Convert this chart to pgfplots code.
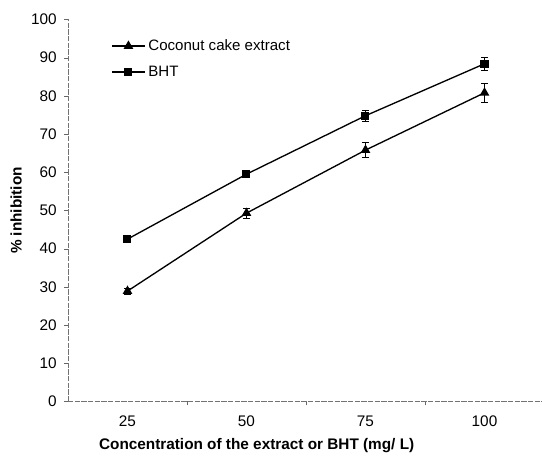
\documentclass[border=0pt]{standalone}
\usepackage{fontspec}
\setmainfont{Liberation Sans}
\usepackage{pgfplots}
\pgfplotsset{compat=1.18}
\begin{document}
\begin{tikzpicture}[x=1pt,y=1pt]
\begin{axis}[
  at={(0,0)}, anchor=south west,
  scale only axis,
  width=357pt, height=286.5pt,
  xmin=0.5, xmax=4.5,
  ymin=0, ymax=100,
  axis lines*=left,
  axis line style={black!55, line width=0.5pt, dash pattern=on 4pt off 1pt},
  xtick={1,2,3,4},
  xticklabels={25,50,75,100},
  major x tick style={draw=none},
  minor xtick={1.5,2.5,3.5},
  minor x tick style={black!60},
  minor tick length=3pt,
  ytick={0,10,...,100},
  y tick style={black!60},
  major tick length=3pt,
  tick align=outside,
  /pgf/number format/assume math mode=true,
  tick label style={font=\fontsize{11.5}{13}\selectfont},
  xticklabel style={yshift=-4pt},
  yticklabel style={xshift=-2pt},
  xlabel={\textbf{Concentration of the extract or BHT (mg/ L)}},
  ylabel={\textbf{\% inhibition}},
  label style={font=\fontsize{11.5}{13}\selectfont},
  xlabel style={yshift=-2pt, xshift=-37pt},
  ylabel style={yshift=0pt},
  legend style={at={(0.09,0.955)}, anchor=north west, draw=none, fill=none,
    font=\fontsize{11.3}{13}\selectfont, row sep=6pt, inner sep=0pt,
    cells={anchor=west}},
  legend image code/.code={\draw[mark repeat=2,mark phase=2] plot coordinates {(0pt,0pt)(12.5pt,0pt)(25pt,0pt)};},
  error bars/error bar style={black, line width=0.6pt},
  error bars/error mark options={rotate=90, mark size=2.6pt, line width=0.6pt, black},
]
\addplot[black, line width=1pt, mark=triangle*, mark size=3.2pt,
  error bars/.cd, y dir=both, y explicit]
  coordinates {(1,28.9) +- (0,0.8) (2,49.3) +- (0,1.3) (3,65.8) +- (0,1.9) (4,80.8) +- (0,2.4)};
\addlegendentry{Coconut cake extract}
\addplot[black, line width=1pt, mark=square*, mark size=2.5pt,
  error bars/.cd, y dir=both, y explicit]
  coordinates {(1,42.5) +- (0,0.6) (2,59.5) +- (0,0.8) (3,74.8) +- (0,1.5) (4,88.4) +- (0,1.7)};
\addlegendentry{BHT}
\end{axis}
\pgfresetboundingbox
\path[use as bounding box] (-51pt,-40.9pt) rectangle (355.5pt,301.1pt);
\end{tikzpicture}
\end{document}
